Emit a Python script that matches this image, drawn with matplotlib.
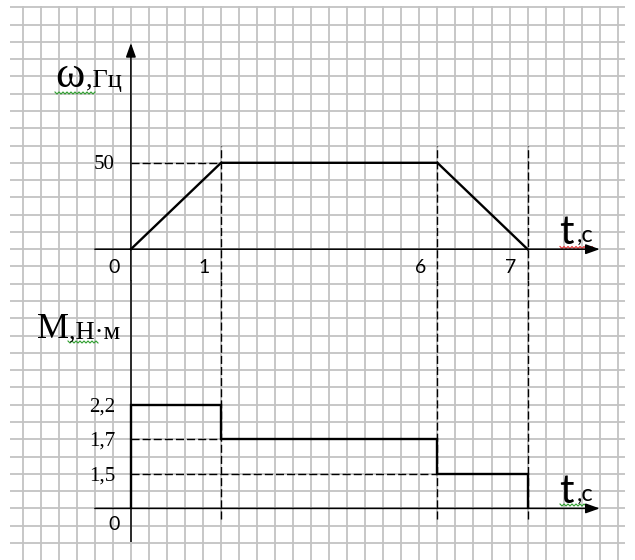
import numpy as np
import matplotlib
matplotlib.use('Agg')
import matplotlib.pyplot as plt

# данные
t_omega = [0, 1, 6, 7]
omega = [0, 50, 50, 0]
t_edges = [0, 1, 6, 7]
torque = [2.2, 1.7, 1.5]
t_ticks = [0, 1, 6, 7]
omega_ticks = [50]
torque_ticks = [2.2, 1.7, 1.5]
torque_labels = ['2,2', '1,7', '1,5']

# разметка (клетки)
W, H = 635, 560
CX, CY = 18.03, 17.28      # размер клетки, px
X0 = 130.9                 # t=0, px
Y0_TOP = 249.2             # omega=0, px
Y0_BOT = 508.4             # M=0, px
OMEGA_PER_CELL = 10

# шкалы не в масштабе: значение -> клетки
t_kn = [-10, 0, 1, 6, 7, 20]
t_sq = [-50, 0, 5, 17, 22, 87]
m_kn = [-10, 0, 1.5, 1.7, 2.2, 20]
m_sq = [-40 / 3, 0, 2, 4, 6, 77.2]


def t_fwd(v):
    return np.interp(v, t_kn, t_sq)


def t_inv(v):
    return np.interp(v, t_sq, t_kn)


def m_fwd(v):
    return np.interp(v, m_kn, m_sq)


def m_inv(v):
    return np.interp(v, m_sq, m_kn)


def box(l, r, top, bot):
    return [l / W, 1 - bot / H, (r - l) / W, (bot - top) / H]


fig = plt.figure(figsize=(6.35, 5.6), dpi=100)

# клетчатый фон
bg = fig.add_axes([0, 0, 1, 1])
bg.set_xlim(0, W)
bg.set_ylim(H, 0)
bg.axis('off')
xs = X0 - 6 * CX + CX * np.arange(34)
ys = Y0_TOP - 14 * CY + CY * np.arange(32)
bg.vlines(xs, 6, H, color='#c3c3c3', lw=1.3)
bg.hlines(ys, 10, 625, color='#c3c3c3', lw=1.3)

left, right = X0 - 2 * CX, X0 + 26 * CX
arrow = dict(arrowstyle='-|>,head_length=0.7,head_width=0.25', mutation_scale=12,
             lw=1.1, color='black', shrinkA=0, shrinkB=0)
dash = (0, (5.8, 2.2))

# верхний график omega(t)
ax1 = fig.add_axes(box(left, right, 43, 280))
ax1.set_xscale('function', functions=(t_fwd, t_inv))
ax1.set_xlim(t_inv(-2), t_inv(26))
ax1.set_ylim((Y0_TOP - 280) / CY * OMEGA_PER_CELL, (Y0_TOP - 43) / CY * OMEGA_PER_CELL)
ax1.axis('off')
ax1.annotate('', xy=(1, 0), xycoords=('axes fraction', 'data'),
             xytext=(0, 0), textcoords=('axes fraction', 'data'), arrowprops=arrow)
ax1.annotate('', xy=(0, 1), xycoords=('data', 'axes fraction'),
             xytext=(0, 0), textcoords=('data', 'axes fraction'), arrowprops=arrow)
ax1.vlines(t_ticks[1:], ax1.get_ylim()[0], 60, color='black', lw=1, linestyles=dash)
ax1.hlines(omega_ticks, 0, 1, color='black', lw=1, linestyles=dash)
ax1.plot(t_omega, omega, color='black', lw=1.7, zorder=3)
for t in t_ticks:
    ax1.annotate(str(t), xy=(t, 0), xytext=(-11.9, -17.1), textcoords='offset points',
                 ha='center', va='baseline', family='Lato', fontsize=14)
for v in omega_ticks:
    ax1.annotate(str(v), xy=(0, v), xytext=(-11.5, -4.8), textcoords='offset points',
                 ha='right', va='baseline', family='Liberation Serif', fontsize=15)

# нижний график M(t)
ax2 = fig.add_axes(box(left, right, 280, 542))
ax2.set_xscale('function', functions=(t_fwd, t_inv))
ax2.set_yscale('function', functions=(m_fwd, m_inv))
ax2.set_xlim(t_inv(-2), t_inv(26))
ax2.set_ylim(m_inv(-(542 - Y0_BOT) / CY), m_inv((Y0_BOT - 280) / CY))
ax2.axis('off')
ax2.annotate('', xy=(1, 0), xycoords=('axes fraction', 'data'),
             xytext=(0, 0), textcoords=('axes fraction', 'data'), arrowprops=arrow)
ax2.axvline(0, color='black', lw=1.1)
ax2.vlines(t_ticks[1:], m_inv(-(519 - Y0_BOT) / CY), ax2.get_ylim()[1],
           color='black', lw=1, linestyles=dash)
ax2.hlines(torque_ticks[1:], 0, t_edges[1:3], color='black', lw=1, linestyles=dash)
ax2.stairs(torque, t_edges, baseline=0, color='black', lw=1.7, zorder=3)
ax2.annotate('0', xy=(0, 0), xytext=(-12.2, -15.6), textcoords='offset points',
             ha='center', va='baseline', family='Lato', fontsize=14)
for v, lab in zip(torque_ticks, torque_labels):
    ax2.annotate(lab, xy=(0, v), xytext=(-11.5, -4.8), textcoords='offset points',
                 ha='right', va='baseline', family='Liberation Serif', fontsize=15)

# подписи осей
serif = 'Liberation Serif'
bg.text(55, 87, 'ω', family=serif, fontsize=32, ha='left', va='baseline')
bg.text(86, 87, ',Гц', family=serif, fontsize=19, ha='left', va='baseline')
bg.text(37, 338.5, 'М', family=serif, fontsize=26, ha='left', va='baseline')
bg.text(69, 338.5, ',Н·м', family=serif, fontsize=19, ha='left', va='baseline')
for yb in (244, 503):
    bg.text(559, yb, 't', family='Lato', fontsize=29, ha='left', va='baseline')
    bg.text(577, yb - 2, ',c', family='Lato', fontsize=17, ha='left', va='baseline')


def squiggle(x0, x1, y, color):
    sx = np.arange(x0, x1 + 0.1, 2.0)
    sy = y + np.where(np.arange(len(sx)) % 2 == 0, -1.0, 1.0)
    bg.plot(sx, sy, color=color, lw=0.8)


squiggle(55, 95, 93, '#2e9e2e')
squiggle(68, 98, 342, '#2e9e2e')
squiggle(560, 595, 247.5, '#e03030')
squiggle(560, 587, 505, '#2e9e2e')

fig.savefig('out.png', dpi=100)
